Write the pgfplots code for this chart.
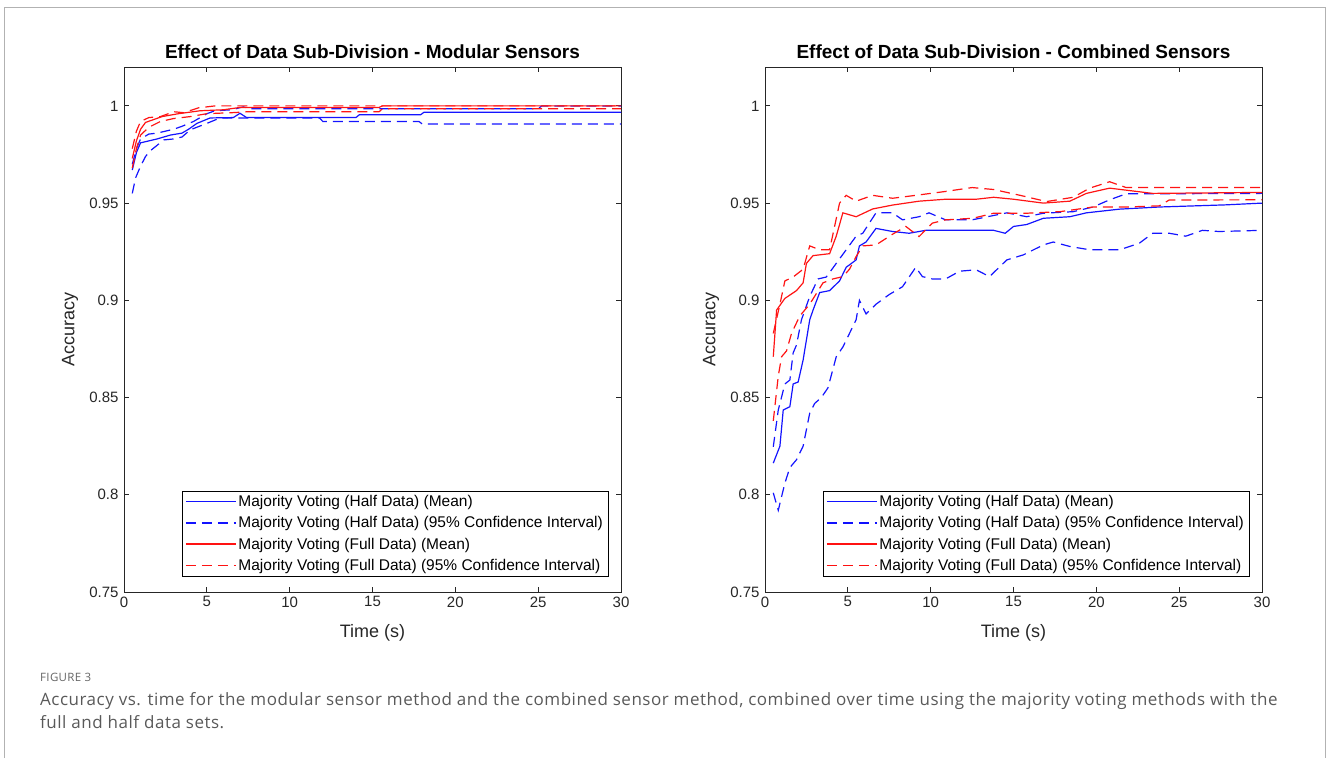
\documentclass[border=0pt]{standalone}
\usepackage{fontspec}
\setmainfont{Liberation Sans}
\newfontfamily\capfont[LetterSpace=3]{Open Sans}
\usepackage{pgfplots}
\pgfplotsset{compat=1.18}
\definecolor{mblue}{RGB}{20,20,255}
\definecolor{mred}{RGB}{255,20,20}
\definecolor{axgray}{RGB}{38,38,38}
% legend sample colours: each one used only once
\definecolor{la}{RGB}{18,18,255}
\definecolor{lb}{RGB}{19,19,254}
\definecolor{lc}{RGB}{255,18,18}
\definecolor{ld}{RGB}{254,19,19}
\definecolor{ra}{RGB}{17,17,255}
\definecolor{rb}{RGB}{16,16,253}
\definecolor{rc}{RGB}{255,17,17}
\definecolor{rd}{RGB}{253,16,16}
\pgfplotsset{
  acc/.style={
    width=497pt, height=525pt, scale only axis,
    xmin=0, xmax=30, ymin=0.75, ymax=1.02,
    xtick={0,5,10,15,20,25,30},
    xticklabels={0,5,10,15,20,25,30},
    ytick={0.75,0.8,0.85,0.9,0.95,1},
    yticklabels={0.75,0.8,0.85,0.9,0.95,1},
    tick align=inside, major tick length=5pt,
    axis line style={draw=axgray, line width=0.9pt},
    every tick/.style={draw=axgray, line width=0.9pt},
    tick label style={font=\fontsize{15}{18}\selectfont, text=axgray},
    yticklabel style={xshift=-2pt},
    xticklabel style={yshift=-1pt},
    title style={font=\bfseries\fontsize{19}{22}\selectfont, at={(0.5,1)}, anchor=south, yshift=-1pt},
    xlabel={Time (s)},
    ylabel={Accuracy},
    label style={font=\fontsize{18}{21}\selectfont, text=axgray},
    xlabel style={at={(axis description cs:0.5,0)}, anchor=center, yshift=-41pt},
    ylabel style={at={(axis description cs:0,0.5)}, anchor=center, yshift=54pt},
    legend cell align=left,
    legend style={at={(rel axis cs:0.974,0.0305)}, anchor=south east,
      fill=white,
      font=\fontsize{15.5}{17}\selectfont, row sep=4.5pt,
      inner xsep=3pt, inner ysep=2pt},
    legend image code/.code={\draw[#1] (0pt,0pt) -- (50pt,0pt);},
    legend entries={Majority Voting (Half Data) (Mean),
      Majority Voting (Half Data) (95\% Confidence Interval),
      Majority Voting (Full Data) (Mean),
      Majority Voting (Full Data) (95\% Confidence Interval)},
  },
}
\begin{document}
\begin{tikzpicture}
\path[use as bounding box] (0pt,0pt) rectangle (1328pt,-758pt);
\draw[black!30, line width=1pt] (4.5pt,-758pt) -- (4.5pt,-7.5pt) -- (1325.5pt,-7.5pt) -- (1325.5pt,-758pt);

\begin{axis}[acc, at={(124pt,-592pt)}, anchor=south west,
  title={Effect of Data Sub-Division - Modular Sensors}]
\addlegendimage{color=la, draw=la, solid, line width=1.4pt}
\addlegendimage{color=lb, draw=lb, line width=1.4pt, dash pattern=on 10pt off 6pt}
\addlegendimage{color=lc, draw=lc, solid, line width=1.4pt}
\addlegendimage{color=ld, draw=ld, line width=1.4pt, dash pattern=on 10pt off 6pt}
\addplot[color=mblue, solid, line width=1.2pt, forget plot] coordinates {(0.5,0.967)(0.75,0.976)(1.0,0.981)(1.5,0.982)(2.0,0.983)(2.8,0.985)(3.5,0.986)(3.9,0.988)(4.4,0.991)(5.2,0.9938)(6.6,0.994)(7.0,0.9962)(7.4,0.994)(14.0,0.994)(14.2,0.9954)(17.9,0.9954)(18.1,0.9967)(30,0.9967)};
\addplot[color=mblue, line width=1.2pt, dash pattern=on 10pt off 6pt, forget plot] coordinates {(0.5,0.970)(0.75,0.978)(1.0,0.983)(1.5,0.9855)(2.0,0.986)(2.5,0.987)(3.0,0.988)(3.5,0.9895)(4.2,0.992)(5.0,0.996)(5.5,0.9975)(6.5,0.998)(7.2,0.9995)(7.6,0.9985)(25,0.9985)(25.2,0.9999)(30,0.9999)};
\addplot[color=mblue, line width=1.2pt, dash pattern=on 10pt off 6pt, forget plot] coordinates {(0.5,0.955)(0.7,0.963)(1.0,0.969)(1.3,0.974)(1.6,0.977)(2.4,0.9825)(3.0,0.983)(3.5,0.984)(4.0,0.9877)(5.0,0.991)(5.8,0.9938)(11.8,0.9938)(12.0,0.992)(17.8,0.992)(18.0,0.9907)(30,0.9907)};
\addplot[color=mred, solid, line width=1.2pt, forget plot] coordinates {(0.5,0.973)(0.75,0.982)(1.0,0.988)(1.3,0.9915)(1.8,0.993)(2.3,0.9945)(3.3,0.996)(4.0,0.9968)(4.6,0.9975)(6.0,0.998)(7.0,0.9992)(15.4,0.9992)(15.6,1.0)(30,1.0)};
\addplot[color=mred, line width=1.2pt, dash pattern=on 10pt off 6pt, forget plot] coordinates {(0.5,0.978)(0.75,0.987)(1.0,0.992)(1.5,0.994)(2.2,0.9945)(3.0,0.997)(3.6,0.9965)(4.5,0.999)(5.5,1.0)(30,1.0)};
\addplot[color=mred, line width=1.2pt, dash pattern=on 10pt off 6pt, forget plot] coordinates {(0.5,0.968)(0.75,0.978)(1.0,0.985)(1.5,0.989)(2.2,0.992)(3.0,0.9935)(4.0,0.9945)(5.0,0.996)(6.5,0.9965)(7.5,0.997)(15.4,0.997)(15.6,0.9985)(30,0.9985)};
\end{axis}

\begin{axis}[acc, at={(765pt,-592pt)}, anchor=south west,
  title={Effect of Data Sub-Division - Combined Sensors}]
\addlegendimage{color=ra, draw=ra, solid, line width=1.4pt}
\addlegendimage{color=rb, draw=rb, line width=1.4pt, dash pattern=on 10pt off 6pt}
\addlegendimage{color=rc, draw=rc, solid, line width=1.4pt}
\addlegendimage{color=rd, draw=rd, line width=1.4pt, dash pattern=on 10pt off 6pt}
\addplot[color=mblue, solid, line width=1.2pt, forget plot] coordinates {(0.5,0.8163)(0.9,0.825)(1.1,0.8436)(1.5,0.8453)(1.7,0.857)(2.0,0.858)(2.3,0.8693)(2.7,0.890)(2.9,0.895)(3.3,0.904)(3.9,0.905)(4.5,0.910)(4.9,0.917)(5.5,0.9208)(5.7,0.928)(6.1,0.930)(6.7,0.937)(7.7,0.9354)(8.7,0.9345)(9.7,0.936)(10.9,0.936)(12.15,0.936)(13.8,0.936)(14.5,0.9345)(15.0,0.938)(15.8,0.939)(16.8,0.9422)(18.4,0.943)(19.4,0.945)(21.4,0.9469)(23.8,0.948)(27.8,0.9491)(30,0.950)};
\addplot[color=mblue, line width=1.2pt, dash pattern=on 10pt off 6pt, forget plot] coordinates {(0.5,0.8247)(0.8,0.8436)(1.2,0.857)(1.5,0.859)(1.7,0.873)(1.9,0.877)(2.2,0.890)(2.7,0.902)(3.2,0.911)(3.7,0.912)(4.3,0.919)(4.9,0.926)(5.5,0.933)(5.9,0.9345)(6.7,0.945)(7.7,0.945)(8.3,0.9414)(9.3,0.943)(9.9,0.945)(10.9,0.9414)(12.5,0.9414)(14.6,0.945)(15.8,0.943)(16.8,0.9448)(18.6,0.9456)(19.8,0.948)(20.8,0.9517)(21.8,0.9548)(23.8,0.9548)(30,0.955)};
\addplot[color=mblue, line width=1.2pt, dash pattern=on 10pt off 6pt, forget plot] coordinates {(0.5,0.801)(0.8,0.792)(1.2,0.806)(1.5,0.814)(1.9,0.818)(2.3,0.825)(2.7,0.842)(3.0,0.847)(3.4,0.850)(3.8,0.855)(4.3,0.871)(4.7,0.876)(5.1,0.883)(5.5,0.890)(5.7,0.900)(6.1,0.893)(6.7,0.898)(7.5,0.903)(8.3,0.907)(9.1,0.917)(9.5,0.9122)(10.1,0.911)(10.9,0.911)(11.75,0.915)(12.75,0.9157)(13.55,0.9122)(14.6,0.9208)(15.6,0.9234)(16.8,0.9285)(17.4,0.930)(18.4,0.9277)(19.6,0.926)(21.4,0.926)(22.6,0.9294)(23.4,0.9345)(24.4,0.9345)(25.4,0.933)(26.4,0.936)(27.4,0.9354)(30,0.936)};
\addplot[color=mred, solid, line width=1.2pt, forget plot] coordinates {(0.5,0.871)(0.7,0.895)(1.2,0.901)(1.9,0.905)(2.3,0.909)(2.5,0.919)(2.9,0.923)(3.9,0.924)(4.3,0.933)(4.7,0.945)(5.5,0.943)(6.5,0.947)(7.7,0.949)(9.3,0.951)(10.9,0.952)(12.75,0.952)(13.8,0.953)(15.0,0.952)(16.8,0.950)(18.4,0.951)(19.4,0.955)(20.8,0.9577)(23.4,0.955)(30,0.9555)};
\addplot[color=mred, line width=1.2pt, dash pattern=on 10pt off 6pt, forget plot] coordinates {(0.5,0.883)(0.9,0.898)(1.2,0.910)(1.7,0.912)(2.3,0.916)(2.7,0.928)(3.3,0.926)(3.9,0.926)(4.5,0.950)(4.9,0.954)(5.5,0.951)(6.5,0.954)(7.7,0.9525)(9.1,0.954)(10.9,0.956)(12.5,0.958)(13.8,0.957)(15.4,0.954)(17.0,0.9508)(18.6,0.953)(19.6,0.9577)(20.8,0.961)(21.8,0.958)(30,0.958)};
\addplot[color=mred, line width=1.2pt, dash pattern=on 10pt off 6pt, forget plot] coordinates {(0.5,0.838)(0.8,0.861)(1.0,0.871)(1.3,0.874)(1.6,0.883)(2.1,0.892)(2.7,0.898)(3.5,0.909)(4.1,0.911)(4.7,0.9122)(5.1,0.916)(5.5,0.9225)(5.9,0.928)(6.7,0.9285)(7.7,0.934)(8.5,0.938)(9.3,0.9328)(10.1,0.9397)(10.9,0.9414)(12.55,0.9422)(13.8,0.9448)(15.8,0.9448)(17.8,0.9456)(19.8,0.948)(21.8,0.948)(23.8,0.9486)(24.4,0.9516)(30,0.9517)};
\end{axis}

\node[anchor=base west, text=black!60, font=\capfont\fontsize{11.5}{14}\selectfont, inner sep=0pt] at (40pt,-681pt) {FIGURE 3};
\node[anchor=base west, text=black!65, font=\capfont\fontsize{17}{20}\selectfont, inner sep=0pt] at (40pt,-705pt) {Accuracy vs. time for the modular sensor method and the combined sensor method, combined over time using the majority voting methods with the};
\node[anchor=base west, text=black!65, font=\capfont\fontsize{17}{20}\selectfont, inner sep=0pt] at (40pt,-728pt) {full and half data sets.};
\end{tikzpicture}
\end{document}
